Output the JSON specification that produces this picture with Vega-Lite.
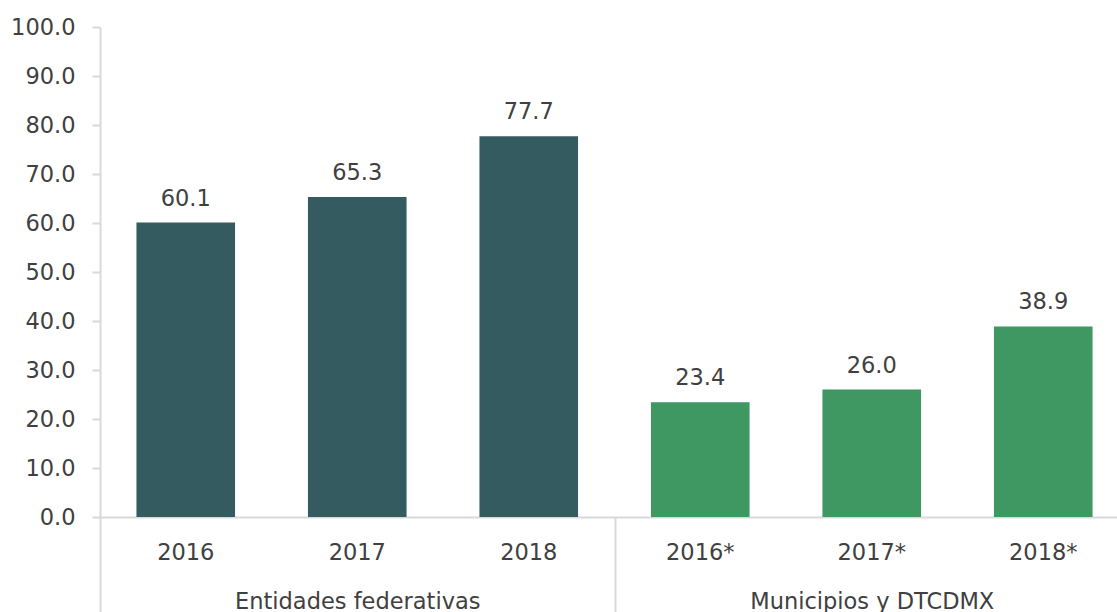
{
  "$schema": "https://vega.github.io/schema/vega-lite/v6.json",
  "width": 1017,
  "height": 490,
  "autosize": {"type": "none"},
  "padding": {"left": 100, "top": 27, "right": 0, "bottom": 95},
  "background": "white",
  "config": {"font": "DejaVu Sans", "view": {"stroke": null}},
  "data": {
    "values": [
      {"group": "Entidades federativas", "label": "2016", "value": 60.1},
      {"group": "Entidades federativas", "label": "2017", "value": 65.3},
      {"group": "Entidades federativas", "label": "2018", "value": 77.7},
      {"group": "Municipios y DTCDMX", "label": "2016*", "value": 23.4},
      {"group": "Municipios y DTCDMX", "label": "2017*", "value": 26.0},
      {"group": "Municipios y DTCDMX", "label": "2018*", "value": 38.9}
    ]
  },
  "encoding": {
    "y": {
      "field": "value",
      "type": "quantitative",
      "scale": {"domain": [0, 100], "nice": false},
      "axis": {
        "title": null,
        "values": [0, 10, 20, 30, 40, 50, 60, 70, 80, 90, 100],
        "format": ".1f",
        "grid": false,
        "domainColor": "#d9d9d9",
        "domainWidth": 2,
        "tickColor": "#d9d9d9",
        "tickWidth": 2,
        "tickSize": 8,
        "labelPadding": 17,
        "labelFont": "DejaVu Sans",
        "labelFontSize": 22.5,
        "labelColor": "#404040"
      }
    }
  },
  "layer": [
    {
      "encoding": {
        "x": {
          "field": "label",
          "type": "nominal",
          "sort": null,
          "scale": {"range": [0, 1029], "paddingInner": 0.425, "paddingOuter": 0.2125},
          "axis": {
            "orient": "bottom",
            "title": null,
            "labelAngle": 0,
            "ticks": false,
            "tickSize": 0,
            "domainColor": "#d9d9d9",
            "domainWidth": 2,
            "labelFont": "DejaVu Sans",
            "labelFontSize": 22.5,
            "labelColor": "#404040",
            "labelBaseline": "alphabetic",
            "labelPadding": 42
          }
        }
      },
      "layer": [
        {
          "mark": {"type": "bar"},
          "encoding": {
            "color": {
              "field": "group",
              "type": "nominal",
              "scale": {"domain": ["Entidades federativas", "Municipios y DTCDMX"], "range": ["#345c60", "#3f9762"]},
              "legend": null
            }
          }
        },
        {
          "mark": {"type": "text", "baseline": "alphabetic", "dy": -17, "fontSize": 22.5, "font": "DejaVu Sans", "color": "#404040"},
          "encoding": {
            "text": {"field": "value", "type": "quantitative", "format": ".1f"}
          }
        }
      ]
    },
    {
      "mark": {"type": "point", "opacity": 0},
      "encoding": {
        "x": {
          "field": "group",
          "type": "nominal",
          "sort": null,
          "scale": {"range": [0, 1029], "paddingInner": 0, "paddingOuter": 0},
          "axis": {
            "orient": "bottom",
            "title": null,
            "labelAngle": 0,
            "labelLimit": 0,
            "domain": false,
            "ticks": true,
            "tickBand": "extent",
            "tickSize": 95,
            "tickWidth": 2,
            "tickColor": "#d9d9d9",
            "labelFont": "DejaVu Sans",
            "labelFontSize": 22.5,
            "labelColor": "#404040",
            "labelBaseline": "alphabetic",
            "labelPadding": -4
          }
        }
      }
    }
  ],
  "resolve": {"scale": {"x": "independent"}}
}
